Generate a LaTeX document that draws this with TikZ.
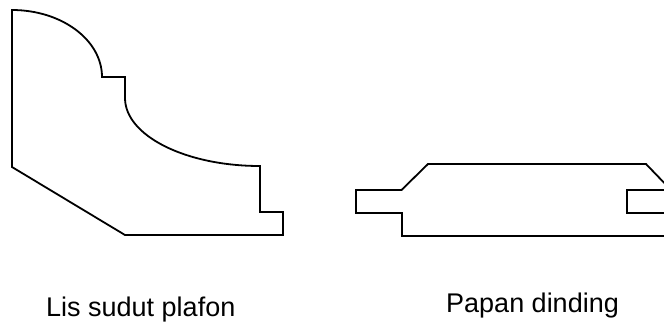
\documentclass[tikz,border=0pt]{standalone}
\usepackage{fontspec}
\setmainfont{Liberation Sans}
\tikzset{profile/.style={draw=black,line width=1.8pt,line join=miter},
caption/.style={anchor=base west,inner sep=0pt,font=\fontsize{27}{32}\selectfont,text=black}}
\begin{document}
\begin{tikzpicture}[x=1pt,y=-1pt]
\useasboundingbox (0,0) rectangle (664,322);
\clip (0,0) rectangle (664,322);
\draw[profile] (12,10) .. controls (61.7,10) and (102,40) .. (102,77) -- (125,77) -- (125,98)
 .. controls (125,135.6) and (185.4,166) .. (260,166) -- (260,212) -- (283,212) -- (283,235) -- (125,235) -- (12,167) -- cycle;
\draw[profile] (672,191) -- (646,164) -- (428,164) -- (401.5,190) -- (356,190) -- (356,213) -- (402,213) -- (402,236) -- (672,236);
\draw[profile] (672,190) -- (627,190) -- (627,213) -- (672,213);
\node[caption] (lis) at (46,316) {Lis sudut plafon};
\node[caption] (papan) at (446,312) {Papan dinding};
\end{tikzpicture}
\end{document}
